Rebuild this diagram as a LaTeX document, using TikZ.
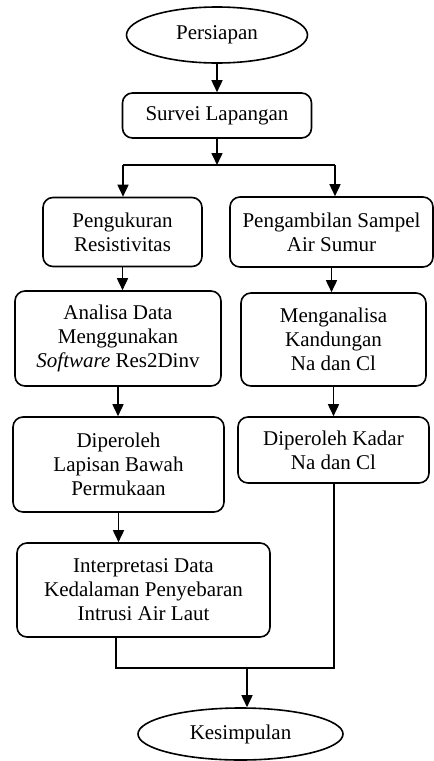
\documentclass[tikz,border=0pt]{standalone}
\usepackage{fontspec}
\setmainfont{Liberation Serif}
\usepackage{tikz}
\usetikzlibrary{positioning, shapes, arrows.meta}

\tikzset{
  proc/.style={draw, rounded corners=5pt, line width=0.8pt, align=center, inner sep=0pt},
  term/.style={draw, ellipse, line width=0.8pt, inner sep=0pt},
  arr/.style={line width=0.8pt, -{Triangle[length=6pt, width=5.5pt]}},
  ln/.style={line width=0.8pt}
}

\begin{document}
\begin{tikzpicture}[x=0.5pt, y=-0.5pt, font=\fontsize{10.5}{12}\selectfont]
  \useasboundingbox (0,0) rectangle (434,761);
  \node[term, minimum width=90.5pt, minimum height=28pt] (persiapan) at (217,35) {Persiapan};
  \node[proc, minimum width=94.5pt, minimum height=22.5pt] (survei) at (217,115.5) {Survei Lapangan};
  \node[proc, minimum width=79.5pt, minimum height=34.5pt] (ukur) at (122.5,232) {Pengukuran\\Resistivitas};
  \node[proc, minimum width=101.5pt, minimum height=35pt] (sampel) at (331.5,232) {Pengambilan Sampel\\Air Sumur};
  \node[proc, minimum width=103pt, minimum height=47.5pt] (analisa) at (118,338.5) {Analisa Data\\Menggunakan\\\textit{Software} Res2Dinv};
  \node[proc, minimum width=92.5pt, minimum height=46.5pt] (kandungan) at (333.5,339.5) {Menganalisa\\Kandungan\\Na dan Cl};
  \node[proc, minimum width=105.5pt, minimum height=47.5pt] (lapisan) at (118.5,464.5) {Diperoleh\\Lapisan Bawah\\Permukaan};
  \node[proc, minimum width=95.5pt, minimum height=33pt] (kadar) at (333.5,450) {Diperoleh Kadar\\Na dan Cl};
  \node[proc, minimum width=126.5pt, minimum height=47pt] (interpretasi) at (143.5,590) {Interpretasi Data\\Kedalaman Penyebaran\\Intrusi Air Laut};
  \node[term, minimum width=102.5pt, minimum height=26pt] (kesimpulan) at (240.5,734) {Kesimpulan};

  \coordinate (split) at (217,165);
  \coordinate (splitL) at (123,165);
  \coordinate (splitR) at (335,165);
  \coordinate (mergeL) at (116,668);
  \coordinate (mergeR) at (334,668);
  \coordinate (mergeM) at (247,668);

  \draw[arr] (persiapan) -- (survei);
  \draw[arr] (survei) -- (split);
  \draw[ln] (splitL) -- (splitR);
  \draw[arr] (splitL) -- (splitL |- ukur.north);
  \draw[arr] (splitR) -- (splitR |- sampel.north);
  \draw[arr] (ukur.south) -- (ukur.south |- analisa.north);
  \draw[arr] (analisa.south) -- (analisa.south |- lapisan.north);
  \draw[arr] (lapisan.south) -- (lapisan.south |- interpretasi.north);
  \draw[arr] (sampel.south) -- (sampel.south |- kandungan.north);
  \draw[arr] (kandungan.south) -- (kandungan.south |- kadar.north);
  \draw[ln] (interpretasi.south -| mergeL) -- (mergeL) -- (mergeR) -- (kadar.south -| mergeR);
  \draw[arr] (mergeM) -- (mergeM |- kesimpulan.north);
\end{tikzpicture}
\end{document}
